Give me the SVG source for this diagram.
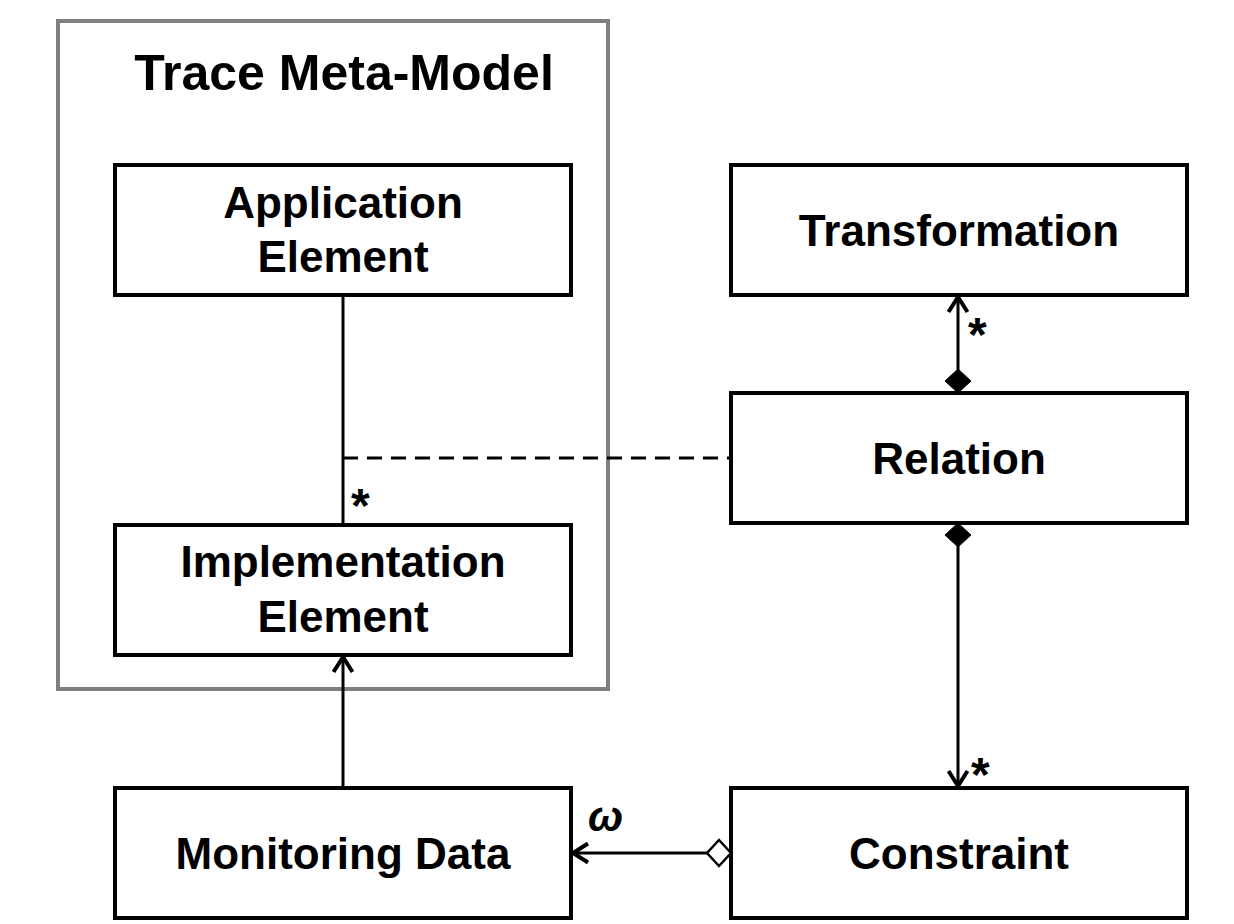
<svg xmlns="http://www.w3.org/2000/svg" width="1234" height="924" viewBox="0 0 1234 924">
  <defs>
    <style>
      .box { fill: #ffffff; stroke: #000000; stroke-width: 4; }
      .frame { fill: #ffffff; stroke: #7f7f7f; stroke-width: 4; }
      .label { font-family: "Liberation Sans", Arial, sans-serif; font-weight: bold; font-size: 44px; fill: #000000; text-anchor: middle; }
      .title { font-family: "Liberation Sans", Arial, sans-serif; font-weight: bold; font-size: 50px; fill: #000000; text-anchor: middle; }
      .mult { font-family: "Liberation Sans", Arial, sans-serif; font-weight: bold; font-size: 48px; fill: #000000; }
      .omega { font-family: "Liberation Sans", Arial, sans-serif; font-weight: bold; font-style: italic; font-size: 42px; fill: #000000; }
      .link { fill: none; stroke: #000000; stroke-width: 3; }
      .dashed { fill: none; stroke: #000000; stroke-width: 3; stroke-dasharray: 15 9; }
    </style>
    <!-- open (stick) arrowhead -->
    <marker id="arrow" markerUnits="userSpaceOnUse" viewBox="-22 -13 26 26" refX="0" refY="0" markerWidth="26" markerHeight="26" orient="auto-start-reverse" overflow="visible">
      <path d="M-16,-9.5 L-1,0 L-16,9.5" fill="none" stroke="#000000" stroke-width="4"/>
    </marker>
    <!-- composition: filled diamond -->
    <marker id="diamondFilled" markerUnits="userSpaceOnUse" viewBox="-26 -14 28 28" refX="0" refY="0" markerWidth="28" markerHeight="28" orient="auto-start-reverse" overflow="visible">
      <path d="M0,0 L-12,-13 L-24,0 L-12,13 Z" fill="#000000" stroke="#000000" stroke-width="1"/>
    </marker>
    <!-- aggregation: open diamond -->
    <marker id="diamondOpen" markerUnits="userSpaceOnUse" viewBox="-26 -14 28 28" refX="0" refY="0" markerWidth="28" markerHeight="28" orient="auto-start-reverse" overflow="visible">
      <path d="M0,0 L-12,-13 L-24,0 L-12,13 Z" fill="#ffffff" stroke="#000000" stroke-width="2.5"/>
    </marker>
  </defs>

  <rect width="1234" height="924" fill="#ffffff"/>

  <!-- package frame -->
  <g id="trace-meta-model">
    <rect class="frame" x="58" y="21" width="550" height="668"/>
    <text class="title" x="344" y="90">Trace Meta-Model</text>
  </g>

  <g id="application-element">
    <rect class="box" x="115" y="165" width="456" height="130"/>
    <text class="label" x="343" y="218">Application</text>
    <text class="label" x="343" y="272">Element</text>
  </g>

  <g id="implementation-element">
    <rect class="box" x="115" y="525" width="456" height="130"/>
    <text class="label" x="343" y="577">Implementation</text>
    <text class="label" x="343" y="632">Element</text>
  </g>

  <g id="transformation">
    <rect class="box" x="731" y="165" width="456" height="130"/>
    <text class="label" x="959" y="246">Transformation</text>
  </g>

  <g id="relation">
    <rect class="box" x="731" y="393" width="456" height="130"/>
    <text class="label" x="959" y="474">Relation</text>
  </g>

  <g id="monitoring-data">
    <rect class="box" x="115" y="788" width="456" height="130"/>
    <text class="label" x="343" y="869">Monitoring Data</text>
  </g>

  <g id="constraint">
    <rect class="box" x="731" y="788" width="456" height="130"/>
    <text class="label" x="959" y="869">Constraint</text>
  </g>

  <g id="connectors">
    <!-- association between application and implementation elements -->
    <line class="link" x1="343" y1="297" x2="343" y2="523"/>
    <text class="mult" x="351" y="522">*</text>
    <!-- association class link to Relation -->
    <line class="dashed" x1="343" y1="458" x2="729" y2="458"/>
    <!-- Relation composes Transformation -->
    <line class="link" x1="958" y1="393" x2="958" y2="296" marker-start="url(#diamondFilled)" marker-end="url(#arrow)"/>
    <text class="mult" x="968" y="351">*</text>
    <!-- Relation composes Constraint -->
    <line class="link" x1="958" y1="523" x2="958" y2="787" marker-start="url(#diamondFilled)" marker-end="url(#arrow)"/>
    <text class="mult" x="971" y="791">*</text>
    <!-- Constraint aggregates Monitoring Data -->
    <line class="link" x1="731" y1="853" x2="572" y2="853" marker-start="url(#diamondOpen)" marker-end="url(#arrow)"/>
    <text class="omega" x="588" y="831">ω</text>
    <!-- Monitoring Data refers to Implementation Element -->
    <line class="link" x1="343" y1="786" x2="343" y2="656" marker-end="url(#arrow)"/>
  </g>
</svg>
